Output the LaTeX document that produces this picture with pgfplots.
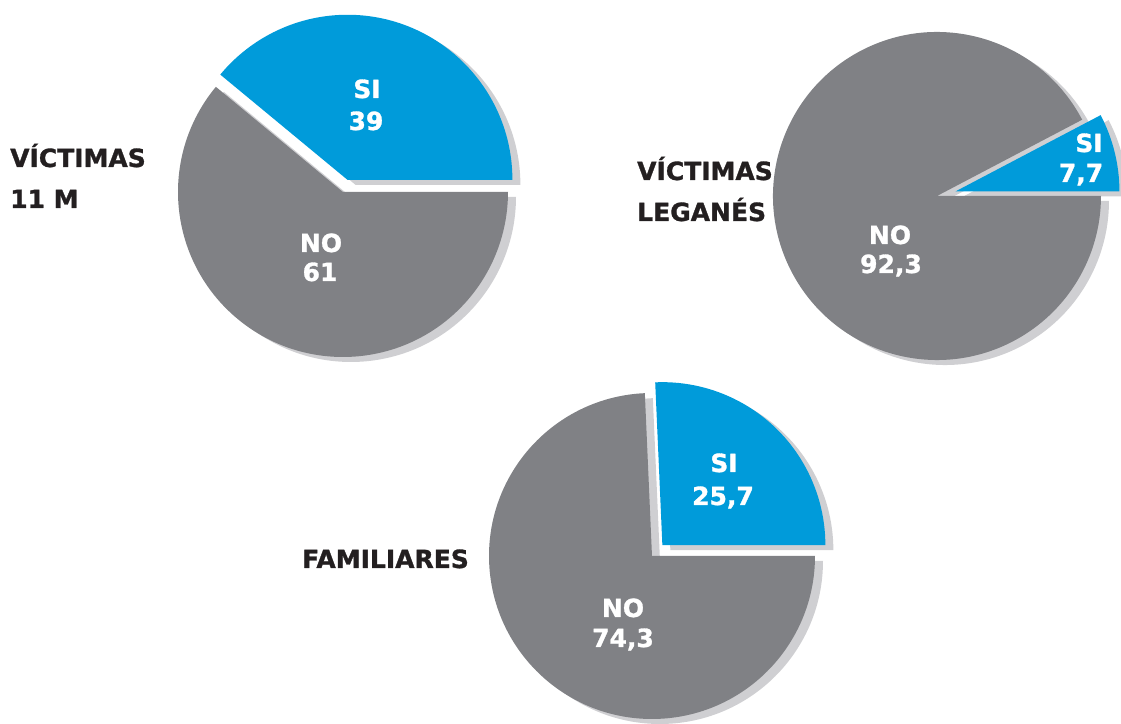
\documentclass[border=0pt]{standalone}
\usepackage{pgfplots}
\pgfplotsset{compat=1.18}
\usepackage{fontspec}
\setmainfont{DejaVu Sans}[BoldFeatures={FakeBold=1.2}]
\definecolor{siblue}{HTML}{009BDA}
\definecolor{nogray}{HTML}{808185}
\definecolor{shadowc}{HTML}{CFCFD2}
\definecolor{txt}{HTML}{231F20}
% \pie{cx}{cy}{radius}{SI percent}{explode}
\newcommand{\pie}[5]{%
  % shadows
  \fill[shadowc] (axis cs:#1,#2) ++(8bp,-5bp) -- ++({3.6*#4}:#3bp)
     arc[start angle={3.6*#4}, end angle=360, radius=#3bp] -- cycle;
  \fill[shadowc] (axis cs:#1,#2) ++(8bp,-5bp) ++({1.8*#4}:#5bp) -- ++(0:#3bp)
     arc[start angle=0, end angle={3.6*#4}, radius=#3bp] -- cycle;
  % NO slice
  \fill[nogray] (axis cs:#1,#2) -- ++({3.6*#4}:#3bp)
     arc[start angle={3.6*#4}, end angle=360, radius=#3bp] -- cycle;
  % SI slice (exploded)
  \fill[siblue] (axis cs:#1,#2) ++({1.8*#4}:#5bp) -- ++(0:#3bp)
     arc[start angle=0, end angle={3.6*#4}, radius=#3bp] -- cycle;
}
\begin{document}
\begin{tikzpicture}
\path[use as bounding box] (0,0) rectangle (1121bp,724bp);
\begin{axis}[at={(0,0)}, anchor=south west, scale only axis,
  width=1121bp, height=724bp, xmin=0, xmax=1121, ymin=0, ymax=724,
  hide axis, clip=true]
\pie{343}{532}{165}{39}{13}
\pie{937}{528}{164}{7.7}{19}
\pie{652}{168}{163}{25.7}{15}
\begin{scope}[every node/.style={inner sep=0pt, font=\bfseries\fontsize{25bp}{30bp}\selectfont}]
\node[white, anchor=base] at (axis cs:367,626) {SI};
\node[white, anchor=base] at (axis cs:366,594) {39};
\node[white, anchor=base] at (axis cs:321,472) {NO};
\node[white, anchor=base] at (axis cs:320,443) {61};
\node[white, anchor=base] at (axis cs:1089,572) {SI};
\node[white, anchor=base] at (axis cs:1081,542) {7,7};
\node[white, anchor=base] at (axis cs:890,480) {NO};
\node[white, anchor=base] at (axis cs:891,451) {92,3};
\node[white, anchor=base] at (axis cs:724,252) {SI};
\node[white, anchor=base] at (axis cs:723,219) {25,7};
\node[white, anchor=base] at (axis cs:623,107) {NO};
\node[white, anchor=base] at (axis cs:623,77) {74,3};
\node[txt, anchor=base west] at (axis cs:10,557) {VÍCTIMAS};
\node[txt, anchor=base west] at (axis cs:10,516) {11 M};
\node[txt, anchor=base west] at (axis cs:637,544) {VÍCTIMAS};
\node[txt, anchor=base west] at (axis cs:637,503) {LEGANÉS};
\node[txt, anchor=base west] at (axis cs:302,156) {FAMILIARES};
\end{scope}
\end{axis}
\end{tikzpicture}
\end{document}
